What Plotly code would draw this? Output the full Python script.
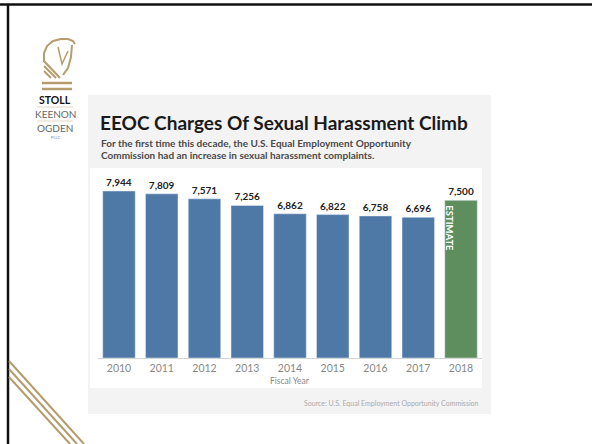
import plotly.graph_objects as go

# -------------------------------------------------
# Data
# -------------------------------------------------
years = ["2010", "2011", "2012", "2013", "2014", "2015", "2016", "2017", "2018"]
charges = [7944, 7809, 7571, 7256, 6862, 6822, 6758, 6696, 7500]
is_estimate = [False] * 8 + [True]

title_text = "EEOC Charges Of Sexual Harassment Climb"
subtitle_lines = [
    "For the first time this decade, the U.S. Equal Employment Opportunity",
    "Commission had an increase in sexual harassment complaints.",
]
source_text = "Source: U.S. Equal Employment Opportunity Commission"

W, H = 592, 444
BLUE = "#4E79A7"
GREEN = "#5E8D5E"
GOLD = "#B49C6C"
FONT = "Lato, Open Sans, sans-serif"


# -------------------------------------------------
# Helpers — pixel -> paper coordinates
# -------------------------------------------------
def px(x):
    return x / W


def py(y):
    return 1 - y / H


def rect(x0, y0, x1, y1, fill):
    return dict(type="rect", xref="paper", yref="paper",
                x0=px(x0), x1=px(x1), y0=py(y1), y1=py(y0),
                fillcolor=fill, line=dict(width=0), layer="below")


def seg(x0, y0, x1, y1, color, width=2):
    return dict(type="line", xref="paper", yref="paper",
                x0=px(x0), y0=py(y0), x1=px(x1), y1=py(y1),
                line=dict(color=color, width=width))


def path(points, color, width=2):
    d = "M " + " L ".join(f"{px(x):.5f},{py(y):.5f}" for x, y in points)
    return dict(type="path", xref="paper", yref="paper", path=d,
                line=dict(color=color, width=width))


fig = go.Figure()

# ---- Bars ----
fig.add_trace(
    go.Bar(
        x=years,
        y=charges,
        marker=dict(color=[GREEN if e else BLUE for e in is_estimate]),
        texttemplate="<b>%{y:,}</b>",
        textposition="outside",
        constraintext="none",
        textfont=dict(family=FONT, size=10, color="#222222"),
        hoverinfo="x+y",
    )
)

# ---- Slide decoration ----
shapes = [
    rect(88, 95, 491, 414, "#F3F3F3"),
    rect(90, 168, 482, 388, "#FFFFFF"),
    seg(0, 4.5, 592, 4.5, "#111111", 2.5),
    seg(8, 4, 8, 444, "#111111", 2.5),
    # gold diagonal lines bottom-left
    seg(9, 361, 84, 444, GOLD, 2),
    seg(9, 369, 77, 444, GOLD, 2),
    seg(9, 377, 70, 444, GOLD, 2),
    # logo: knight head
    path([(44, 62), (44, 53), (47, 46), (53, 41), (61, 39), (68, 39), (73, 41), (75, 44)], GOLD, 2),
    path([(72, 45), (71, 57), (68, 68), (63, 75)], GOLD, 2),
    path([(58, 47), (62, 64), (68, 51)], GOLD, 1.5),
    seg(44, 61, 60, 78, GOLD, 2),
    seg(44, 66, 56, 78, GOLD, 2),
    seg(44, 71, 51, 78, GOLD, 2),
    seg(42, 83, 72, 83, GOLD, 2.5),
    seg(42, 89, 72, 89, GOLD, 2.5),
    seg(37, 107, 73, 107, "#D8CDB5", 0.8),
    seg(37, 121, 73, 121, "#D8CDB5", 0.8),
]

annotations = [
    dict(text="<b>STOLL</b>", x=px(55), y=py(100), font=dict(size=10.5, color="#111111")),
    dict(text="KEENON", x=px(55), y=py(114), font=dict(size=10, color="#666666")),
    dict(text="OGDEN", x=px(55), y=py(128), font=dict(size=10, color="#666666")),
    dict(text="PLLC", x=px(55), y=py(137), font=dict(size=4, color="#888888")),
    dict(text=f"<b>{title_text}</b>", x=px(98), y=py(123), xanchor="left",
         font=dict(size=19, color="#1A1A1A")),
    dict(text=f"<b>{subtitle_lines[0]}</b>", x=px(99), y=py(143), xanchor="left",
         font=dict(size=10, color="#4A4A4A")),
    dict(text=f"<b>{subtitle_lines[1]}</b>", x=px(99), y=py(155), xanchor="left",
         font=dict(size=10, color="#4A4A4A")),
    dict(text="Fiscal Year", x=px(290), y=py(381), font=dict(size=8.5, color="#888888")),
    dict(text=source_text, x=px(481), y=py(403), xanchor="right",
         font=dict(size=7, color="#AAAAAA")),
]
for a in annotations:
    a.update(xref="paper", yref="paper", showarrow=False, yanchor="middle")
    a.setdefault("xanchor", "center")
    a["font"].setdefault("family", FONT)

# ---- ESTIMATE label inside the 2018 bar (category index, not the year value) ----
annotations.append(
    dict(text="<b>ESTIMATE</b>", x=len(years) - 1, y=charges[-1], xref="x", yref="y",
         xshift=-11, yshift=-3, yanchor="top", textangle=90, showarrow=False,
         font=dict(family=FONT, size=9.5, color="#FFFFFF"))
)

fig.update_layout(
    width=W,
    height=H,
    margin=dict(l=0, r=0, t=0, b=0),
    paper_bgcolor="#FFFFFF",
    plot_bgcolor="rgba(0,0,0,0)",
    showlegend=False,
    bargap=0.24,
    font=dict(family=FONT),
    shapes=shapes,
    annotations=annotations,
    xaxis=dict(
        type="category",
        categoryorder="array",
        categoryarray=years,
        range=[-0.5, len(years) - 0.5],
        domain=[px(97.6), px(482.4)],
        showline=True, linecolor="#D5D5D5", linewidth=1,
        ticks="", showgrid=False,
        tickfont=dict(size=10.5, color="#888888"),
    ),
    yaxis=dict(
        domain=[py(358), py(168.8)],
        range=[0, 9000],
        visible=False,
    ),
)

fig.write_html("out.html", config={"displayModeBar": False},
               post_script="document.body.style.margin='0';")
